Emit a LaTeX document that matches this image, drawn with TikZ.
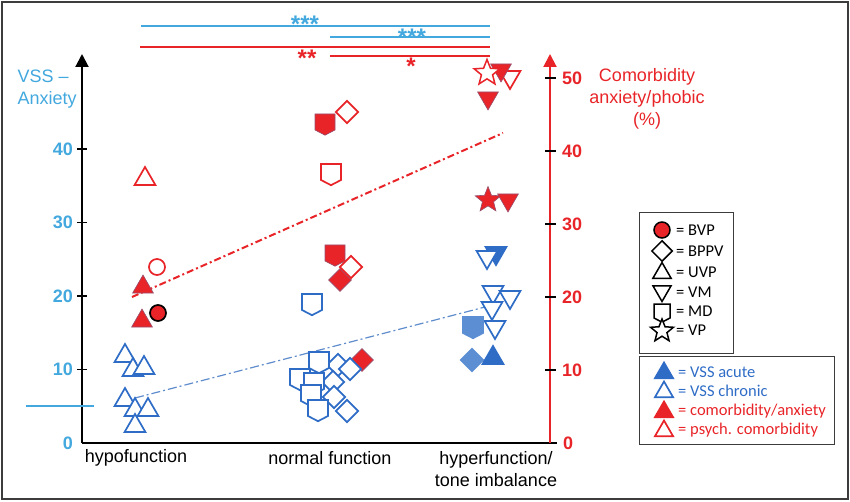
\documentclass[tikz,border=0pt]{standalone}
\usepackage{fontspec}
\setmainfont{Liberation Sans}
\newfontfamily\legfont{Carlito}
\usetikzlibrary{shapes.geometric,shapes.symbols,arrows.meta}

\definecolor{axblue}{RGB}{66,168,222}
\definecolor{mkblue}{RGB}{46,108,198}
\definecolor{paleblue}{RGB}{92,142,212}
\definecolor{mkred}{RGB}{232,36,40}
\definecolor{redgray}{RGB}{150,80,110}
\definecolor{trendblue}{RGB}{95,140,205}
\definecolor{framegray}{RGB}{60,60,60}

\newcommand\axfont{\fontsize{18}{22}\selectfont}
\newcommand\keyfont{\legfont\fontsize{16.5}{20}\selectfont}

\tikzset{   mtri/.style={regular polygon,regular polygon sides=3,minimum size=24pt,inner sep=0pt,line width=1.7pt},
            mvee/.style={mtri,shape border rotate=180},
            mdia/.style={diamond,minimum width=23pt,minimum height=23pt,inner sep=0pt,line width=1.7pt},
            mshd/.style={signal,signal to=south,signal from=nowhere,signal pointer angle=125,minimum width=20pt,minimum height=16pt,inner sep=0pt,line width=1.7pt},
            mstar/.style={star,star points=5,star point ratio=2.3,minimum size=27pt,inner sep=0pt,line width=1.5pt},
            mcirc/.style={circle,minimum size=16pt,inner sep=0pt,line width=1.7pt},
            chron/.style={draw=mkblue,fill=white},
            acute/.style={draw=mkblue,fill=mkblue},
            pale/.style={draw=paleblue,fill=paleblue},
            anx/.style={draw=redgray,fill=mkred,line width=0.6pt},
            psy/.style={draw=mkred,fill=white},
            key/.style={draw=black,fill=white,line width=1.5pt},
            ltick/.style={anchor=east,text=axblue,font=\axfont\bfseries,inner sep=1pt},
            rtick/.style={anchor=west,text=mkred,font=\axfont\bfseries,inner sep=1pt},
            keytxt/.style={anchor=west,font=\keyfont,inner sep=1pt},
            boxline/.style={draw=framegray,line width=1pt},
}

\begin{document}
\begin{tikzpicture}[x=1pt,y=-1pt]
    \useasboundingbox (0,0) rectangle (850,502);
    \draw[framegray,line width=1.5pt] (2,2) rectangle (848,499); % frame

    \coordinate (o) at (82,443);  % axes
    \coordinate (ytop) at (82,54);
    \coordinate (xend) at (557,443);
    \coordinate (r0) at (550,443);
    \coordinate (rtop) at (550,54);
    \draw[line width=2pt] (o) -- (xend);
    \draw[line width=2pt,-{Triangle[length=13pt,width=13pt]}] (o) -- (ytop);
    \draw[mkred,line width=2pt,-{Triangle[length=13pt,width=13pt]}] (r0) -- (rtop);

    \foreach \v in {10,20,30,40} {  % left ticks
        \draw[line width=1.5pt] (77,{443-7.35*\v}) -- (87,{443-7.35*\v});
        \node[ltick] (lt\v) at (74,{443-7.35*\v}) {\v};
    }
    \node[ltick] (lt0) at (74,443) {0};
    \draw[axblue,line width=1.2pt] (26,406) -- (94,406);

    \foreach \v in {10,20,30,40,50} {  % right ticks
        \draw[line width=1.5pt] (545,{443-7.3*\v}) -- (556,{443-7.3*\v});
        \node[rtick] (rt\v) at (561,{443-7.3*\v}) {\v};
    }
    \node[rtick] (rt0) at (562,443) {0};

    \node[anchor=west,align=left,text=axblue,font=\axfont] (ylab) at (14,89) {VSS --\\Anxiety};  % axis labels
    \node[align=center,text=mkred,font=\axfont] (rlab) at (647,99) {Comorbidity\\anxiety/phobic\\(\%)};
    \node[font=\axfont] (xhypo) at (136,458) {hypofunction};
    \node[font=\axfont] (xnorm) at (330,458) {normal function};
    \node[align=center,font=\axfont] (xhyper) at (496,469) {hyperfunction/\\tone imbalance};

    \draw[axblue,line width=1.3pt] (141,26) -- (490,26);  % significance bars
    \draw[axblue,line width=1.3pt] (330,37) -- (490,37);
    \draw[mkred,line width=1.6pt] (140,47) -- (490,47);
    \draw[mkred,line width=1.6pt] (330,56) -- (490,56);
    \node[anchor=base,text=axblue,font=\fontsize{24}{24}\selectfont\bfseries] (s1) at (305,33) {***};
    \node[anchor=base,text=axblue,font=\fontsize{24}{24}\selectfont\bfseries] (s2) at (412,46) {***};
    \node[anchor=base,text=mkred,font=\fontsize{24}{24}\selectfont\bfseries] (s3) at (307,67) {**};
    \node[anchor=base,text=mkred,font=\fontsize{24}{24}\selectfont\bfseries] (s4) at (411,75) {*};

    \coordinate (ra) at (132,297);  % trend lines
    \coordinate (rb) at (503,133);
    \coordinate (ba) at (135,398);
    \coordinate (bb) at (485,307);
    \draw[mkred,line width=2pt,dash pattern=on 7pt off 3pt on 2pt off 3pt] (ra) -- (rb);
    \draw[trendblue,line width=1.2pt,dash pattern=on 9pt off 3pt on 2pt off 3pt] (ba) -- (bb);

    % hypofunction
    \node[mtri,psy] (hp1) at (145,179) {};
    \node[mcirc,psy] (hp2) at (157,267) {};
    \node[mtri,anx] (ha1) at (143,287) {};
    \node[mcirc,draw=black,fill=mkred,line width=1.7pt] (hb1) at (158,313) {};
    \node[mtri,anx] (ha2) at (142,321) {};
    \foreach \px/\py [count=\i] in {125/356,133/370,144/368,125/400,135/410,148/410,135/426}
        \node[mtri,chron] (hc\i) at (\px,\py) {};

    % normal function
    \node[mshd,anx] (na1) at (325,122) {};
    \node[mdia,psy] (np1) at (347,112) {};
    \node[mshd,psy] (np2) at (331,172) {};
    \node[mshd,anx] (na2) at (335,253) {};
    \node[mdia,anx] (na3) at (340,280) {};
    \node[mdia,psy] (np3) at (351,267) {};
    \node[mshd,chron] (nc0) at (312,302) {};
    \node[mdia,anx] (na4) at (362,360) {};
    \foreach \px/\py [count=\i] in {338/365,350/369,333/382,334/397,347/411}
        \node[mdia,chron] (nd\i) at (\px,\py) {};
    \foreach \px/\py [count=\i] in {319/360,300/377,314/381,311/393,318/408}
        \node[mshd,chron] (ns\i) at (\px,\py) {};

    % hyperfunction
    \node[mvee,psy] (rp1) at (510,77) {};
    \node[mvee,anx] (ra1) at (501,70) {};
    \node[mstar,psy] (rp2) at (487,73) {};
    \node[mvee,anx] (ra2) at (488,98) {};
    \node[mstar,anx] (ra3) at (488,200) {};
    \node[mvee,anx] (ra4) at (508,200) {};
    \node[mvee,acute] (rv0) at (496,253) {};
    \foreach \px/\py [count=\i] in {487/257,493/292,510/297,492/308,495/327}
        \node[mvee,chron] (rc\i) at (\px,\py) {};
    \node[mshd,pale] (rs1) at (473,325) {};
    \node[mdia,pale] (rd1) at (472,360) {};
    \node[mtri,acute] (rt1) at (493,358) {};

    % legend
    \draw[boxline] (639,213) rectangle (733,353);
    \node[mcirc,draw=black,fill=mkred,line width=1.5pt,minimum size=16pt] (kbvp) at (662,230) {};
    \node[mdia,key,minimum width=21pt,minimum height=21pt] (kbppv) at (662,251) {};
    \node[mtri,key,minimum size=21pt] (kuvp) at (662,273) {};
    \node[mvee,key,minimum size=21pt] (kvm) at (662,291) {};
    \node[mshd,key,minimum width=16pt,minimum height=14pt] (kmd) at (662,311) {};
    \node[mstar,key,minimum size=24pt] (kvp) at (662,331) {};
    \node[keytxt] (tbvp) at (675,230) {= BVP};
    \node[keytxt] (tbppv) at (675,251) {= BPPV};
    \node[keytxt] (tuvp) at (675,272) {= UVP};
    \node[keytxt] (tvm) at (675,292) {= VM};
    \node[keytxt] (tmd) at (675,311) {= MD};
    \node[keytxt] (tvp) at (675,330) {= VP};

    \draw[boxline] (639,356) rectangle (834,444);
    \node[mtri,acute,minimum size=21pt] (kac) at (664,373) {};
    \node[mtri,chron,minimum size=21pt] (kch) at (664,392) {};
    \node[mtri,fill=mkred,draw=mkred,minimum size=21pt] (kan) at (664,412) {};
    \node[mtri,psy,minimum size=21pt] (kps) at (664,431) {};
    \node[keytxt,text=mkblue] (tac) at (677,372) {= VSS acute};
    \node[keytxt,text=mkblue] (tch) at (677,391) {= VSS chronic};
    \node[keytxt,text=mkred] (tan) at (677,411) {= comorbidity/anxiety};
    \node[keytxt,text=mkred] (tps) at (677,430) {= psych. comorbidity};
\end{tikzpicture}
\end{document}
